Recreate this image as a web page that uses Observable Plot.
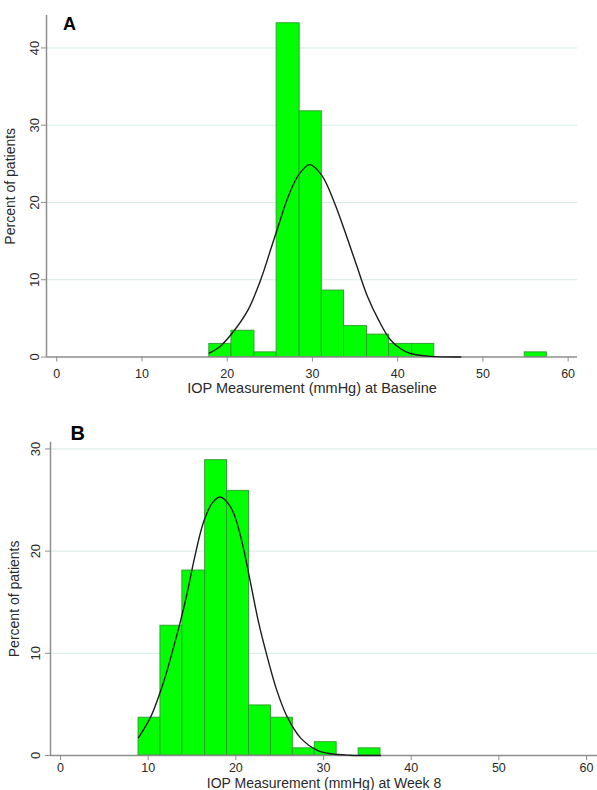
<!DOCTYPE html>
<html>
<head>
<meta charset="utf-8">
<script src="https://cdn.jsdelivr.net/npm/d3@7"></script>
<script src="https://cdn.jsdelivr.net/npm/@observablehq/plot@0.6"></script>
<style>
  html, body { margin: 0; padding: 0; background: #fff; }
  #chart svg { display: block; }
</style>
</head>
<body>
<div id="chart"></div>
<script>
// ---- Data ----
const xTicks = [0, 10, 20, 30, 40, 50, 60];
const yTicksA = [0, 10, 20, 30, 40];
const yTicksB = [0, 10, 20, 30];

// Panel A: IOP at baseline
const binEdgesA = [17.9, 20.5, 23.2, 25.8, 28.5, 31.1, 33.7, 36.4, 39.0, 41.7, 44.3, 46.9, 49.6, 52.2, 54.9, 57.5];
const percentA  = [1.7, 3.4, 0.6, 43.2, 31.8, 8.6, 4.0, 2.9, 1.7, 1.7, 0, 0, 0, 0, 0.6];
const curveXA = [17.9, 19.2, 20.6, 22.4, 23.9, 25.3, 26.1, 27.0, 28.4, 29.7, 31.1, 32.5, 33.7, 35.2, 36.4, 37.8, 39.1, 40.3, 41.5, 43.9, 47.4];
const curveYA = [0.5, 1.4, 3.1, 6.0, 9.9, 14.6, 17.3, 20.3, 23.6, 24.9, 23.5, 20.2, 16.6, 11.8, 8.0, 4.7, 2.3, 1.1, 0.45, 0.08, 0];

// Panel B: IOP at week 8
const binEdgesB = [8.9, 11.4, 13.9, 16.5, 19.0, 21.5, 24.0, 26.5, 29.0, 31.5, 34.0, 36.5];
const percentB  = [3.7, 12.7, 18.1, 28.9, 25.9, 4.9, 3.7, 0.7, 1.3, 0, 0.7];
const curveXB = [8.9, 10.3, 11.8, 12.9, 13.7, 14.5, 15.2, 16.3, 17.3, 18.2, 19.1, 19.8, 20.7, 21.7, 22.6, 23.6, 24.7, 25.9, 27.4, 29.3, 30.8, 33.0, 36.5];
const curveYB = [1.75, 3.8, 7.3, 10.6, 13.2, 16.1, 19.0, 22.8, 24.7, 25.3, 24.7, 23.6, 20.9, 16.8, 13.0, 9.6, 6.3, 3.7, 1.7, 0.5, 0.17, 0.03, 0];

const yLabel = "Percent of patients";
const xLabelA = "IOP Measurement (mmHg) at Baseline";
const xLabelB = "IOP Measurement (mmHg) at Week 8";

// ---- Drawing ----
const FONT = "'Liberation Sans', Arial, Helvetica, sans-serif";
const AXIS = "#8e8e8e";
const TEXT = "#2a2a2a";

function panel(cfg) {
  const bins = cfg.pct.map((p, i) => ({x1: cfg.edges[i], x2: cfg.edges[i + 1], pct: p})).filter(d => d.pct > 0);
  const curve = cfg.cx.map((x, i) => ({x, y: cfg.cy[i]}));
  return Plot.plot({
    width: 597,
    height: 395,
    marginLeft: cfg.mL,
    marginRight: cfg.mR,
    marginTop: cfg.mT,
    marginBottom: cfg.mB,
    x: {domain: cfg.xDomain},
    y: {domain: cfg.yDomain},
    style: {fontFamily: FONT, background: "#fff", overflow: "visible"},
    marks: [
      Plot.gridY(cfg.yTicks.filter(d => d > 0), {stroke: "#d6ebe8", strokeOpacity: 1, strokeWidth: 1}),
      Plot.rect(bins, {x1: "x1", x2: "x2", y1: 0, y2: "pct", fill: "#00ff00", stroke: "#2e9a2e", strokeWidth: 0.9}),
      Plot.ruleY([0], {stroke: AXIS, strokeWidth: 1.5}),
      Plot.ruleX([cfg.xDomain[0]], {stroke: AXIS, strokeWidth: 1.5}),
      Plot.line(curve, {x: "x", y: "y", curve: "catmull-rom", stroke: "#1c1c1c", strokeWidth: 1.4}),
      Plot.axisX({ticks: xTicks, tickSize: 5, tickPadding: cfg.xPad, stroke: AXIS, fill: TEXT, fontSize: 12.5, label: null}),
      Plot.axisY({ticks: cfg.yTicks, tickSize: 5, tickPadding: cfg.yPad, tickRotate: -90, stroke: AXIS, fill: TEXT, fontSize: 13, label: null}),
      Plot.text([yLabel], {frameAnchor: "left", dx: cfg.yTitleDx, rotate: -90, textAnchor: "middle", lineAnchor: "middle", fontSize: 14, fill: TEXT}),
      Plot.text([cfg.xLabel], {frameAnchor: "bottom", dy: cfg.xTitleDy, textAnchor: "middle", lineAnchor: "middle", fontSize: cfg.xTitleSize, fill: TEXT}),
      Plot.text([cfg.letter], {frameAnchor: "top-left", dx: cfg.letterDx, dy: cfg.letterDy, textAnchor: "start", lineAnchor: "top", fontSize: cfg.letterSize, fontWeight: "bold", fill: "#000"})
    ]
  });
}

const chart = document.getElementById("chart");
chart.append(panel({
  edges: binEdgesA, pct: percentA, cx: curveXA, cy: curveYA,
  yTicks: yTicksA, xLabel: xLabelA, letter: "A",
  xDomain: [-1.2, 61.1], yDomain: [0, 44.2],
  mL: 46, mR: 20, mT: 15, mB: 38.5,
  xPad: 7.5, yPad: 2.2, yTitleDx: -35.5, xTitleDy: 31.3, xTitleSize: 14.5,
  letterDx: 16.5, letterDy: 1.5, letterSize: 18
}));
chart.append(panel({
  edges: binEdgesB, pct: percentB, cx: curveXB, cy: curveYB,
  yTicks: yTicksB, xLabel: xLabelB, letter: "B",
  xDomain: [-1.14, 61.25], yDomain: [0, 30.66],
  mL: 50, mR: 0, mT: 46.7, mB: 35,
  xPad: 2.5, yPad: 5.2, yTitleDx: -36.2, xTitleDy: 27.7, xTitleSize: 14,
  letterDx: 20, letterDy: -16.7, letterSize: 20
}));
</script>
</body>
</html>
